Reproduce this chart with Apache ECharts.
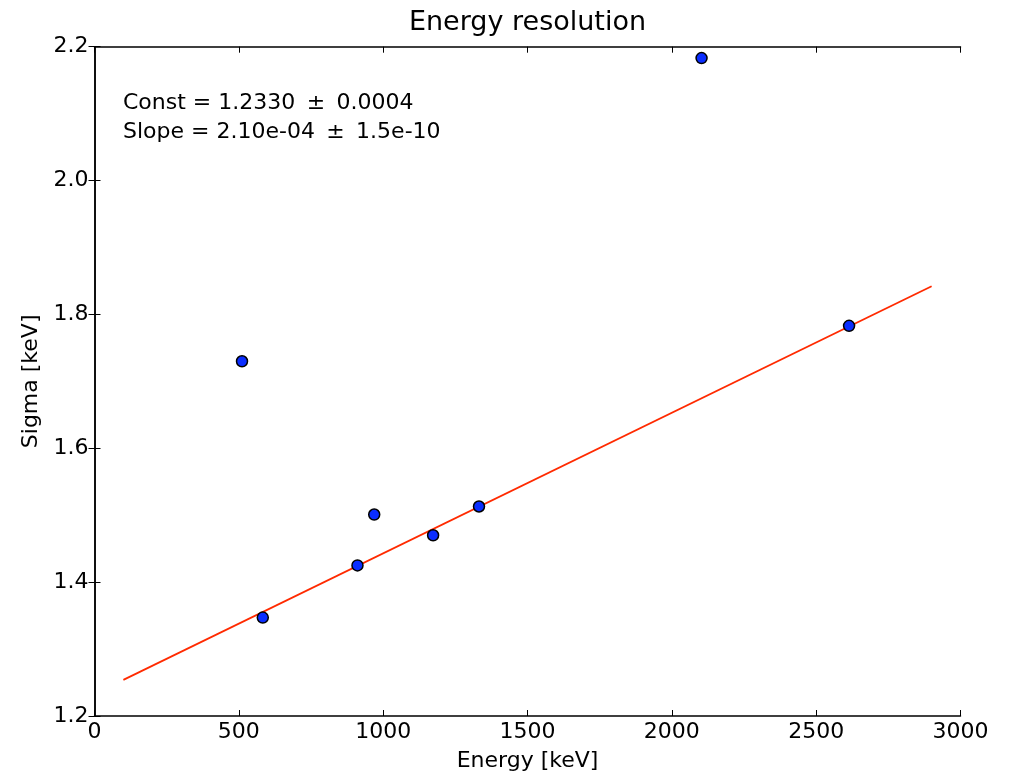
<!DOCTYPE html>
<html>
<head>
<meta charset="utf-8">
<script src="https://cdn.jsdelivr.net/npm/echarts@6/dist/echarts.min.js"></script>
<style>html,body{margin:0;padding:0;background:#fff}#c{width:1009px;height:777px}</style>
</head>
<body>
<div id="c"></div>
<script>
const energy = [511, 583, 911, 969, 1173, 1332, 2103, 2614];
const sigma = [1.730, 1.347, 1.425, 1.501, 1.470, 1.513, 2.183, 1.783];
const fitX = [100, 2900];
const fitY = [1.254, 1.842];
const xTicks = [0, 500, 1000, 1500, 2000, 2500, 3000];
const yTicks = [1.2, 1.4, 1.6, 1.8, 2.0, 2.2];
const titleText = 'Energy resolution';
const xName = 'Energy [keV]';
const yName = 'Sigma [keV]';
const annotLines = ['Const = 1.2330 \u2009\u00b1\u2009 0.0004', 'Slope = 2.10e-04 \u2009\u00b1\u2009 1.5e-10'];

const FONT = 'DejaVu Sans';
const chart = echarts.init(document.getElementById('c'));
const axisLine = {show: true, lineStyle: {color: '#000', width: 1.5}};
const tick = {show: true, inside: true, length: 6, lineStyle: {color: '#000', width: 1}};
chart.setOption({
  animation: false,
  backgroundColor: '#fff',
  grid: {left: 94.5, right: 48.5, top: 46.7, bottom: 60},
  xAxis: [
    {type: 'value', min: xTicks[0], max: xTicks[xTicks.length-1], interval: 500,
     position: 'bottom', name: xName, nameLocation: 'middle', nameGap: 34,
     nameTextStyle: {fontFamily: FONT, fontSize: 22, color: '#000'},
     axisLine: axisLine, axisTick: tick, splitLine: {show: false},
     axisLabel: {fontFamily: FONT, fontSize: 22, color: '#000', margin: 5,
       formatter: v => String(v)}},
    {type: 'value', min: xTicks[0], max: xTicks[xTicks.length-1], interval: 500,
     position: 'top', axisLine: axisLine, axisTick: tick, splitLine: {show: false},
     axisLabel: {show: false}}
  ],
  yAxis: [
    {type: 'value', min: yTicks[0], max: yTicks[yTicks.length-1], interval: 0.2,
     position: 'left', name: yName, nameLocation: 'middle', nameGap: 52,
     nameTextStyle: {fontFamily: FONT, fontSize: 22, color: '#000'},
     axisLine: axisLine, axisTick: tick, splitLine: {show: false},
     axisLabel: {fontFamily: FONT, fontSize: 22, color: '#000', margin: 6,
       formatter: v => v.toFixed(1)}},
    {type: 'value', min: yTicks[0], max: yTicks[yTicks.length-1], interval: 0.2,
     position: 'right', axisLine: axisLine, axisTick: tick, splitLine: {show: false},
     axisLabel: {show: false}}
  ],
  graphic: [{
    type: 'text', x: 527.5, y: 9,
    style: {text: titleText, fontFamily: FONT, fontSize: 27, fill: '#000',
      textAlign: 'center', textVerticalAlign: 'top'}
  }, {
    type: 'text', left: 123, top: 89,
    style: {text: annotLines.join('\n'), fontFamily: FONT, fontSize: 22,
      lineHeight: 29, fill: '#000'}
  }],
  series: [
    {type: 'line', data: fitX.map((x, i) => [x, fitY[i]]), showSymbol: false,
     lineStyle: {color: '#ff2a00', width: 1.8}, z: 2},
    {type: 'scatter', data: energy.map((x, i) => [x, sigma[i]]), symbol: 'circle',
     symbolSize: 11, itemStyle: {color: '#0a2dff', opacity: 1, borderColor: '#000', borderWidth: 1.5}, z: 3}
  ]
});
</script>
</body>
</html>
